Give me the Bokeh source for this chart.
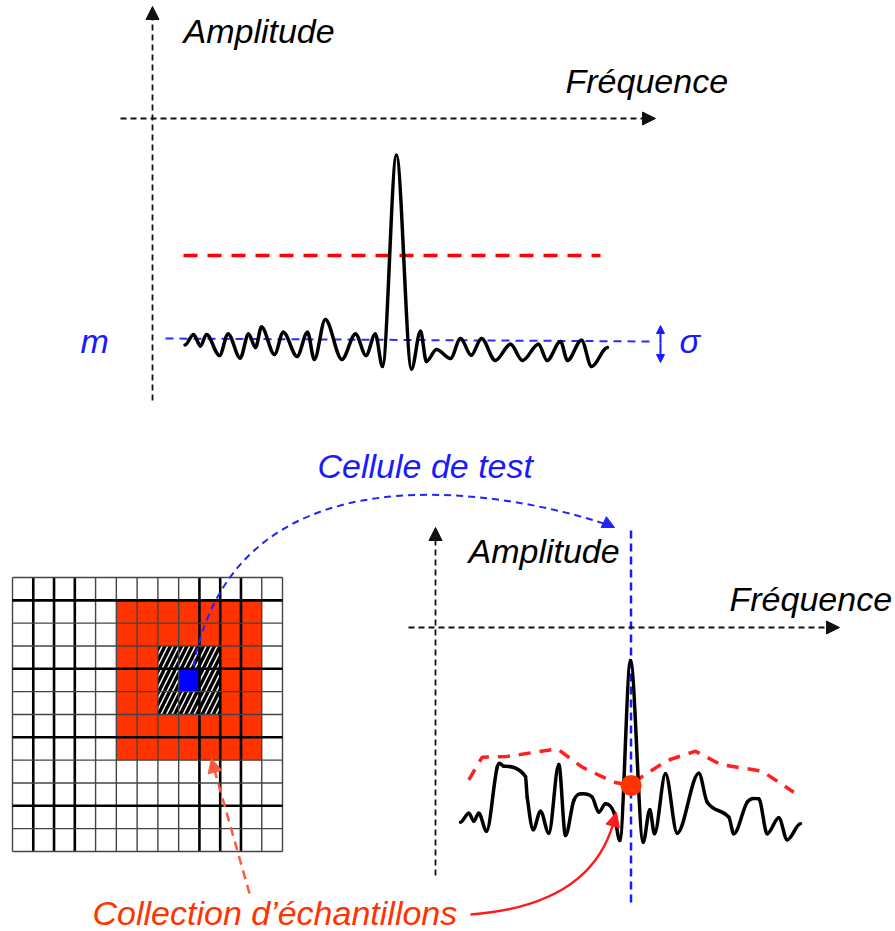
from bokeh.plotting import figure
from bokeh.models import Range1d, Arrow, NormalHead
from bokeh.core.properties import value
from bokeh.embed import file_html
from bokeh.resources import INLINE

# ---------------- data (diagram coordinates, y grows downward) ----------------
# Top spectrum: frequency position / amplitude position
top_freq = [184.5, 193, 200, 206, 219, 227.6, 239.7, 248, 255, 261, 274, 282.8, 296.6, 307,
            313.8, 324.8, 341.4, 355, 365.5, 374.8, 382, 395.9, 411, 420, 425.9, 436, 450,
            460, 470.7, 481, 494.8, 510, 522, 538, 546.6, 560, 567, 581, 591, 607]
top_amp = [344.5, 334, 345.5, 334, 355, 333.4, 357.6, 333.4, 347, 326.6, 354, 331.7, 355.9, 331.7,
           359, 319, 359, 333.4, 355, 333.4, 366, 154.8, 368.6, 330.7, 361, 349, 358,
           338, 354.8, 338, 360, 343.8, 360, 343.8, 360, 341, 360, 339.7, 366, 347]
top_threshold_freq = [183, 600]
top_threshold_amp = [255, 255]
top_mean_freq = [165, 655]
top_mean_amp = [338, 341]

# Bottom spectrum
bot_freq = [460, 468.3, 473.3, 478.3, 486, 496.7, 503.3, 525, 526.7, 532.7, 540, 548.3, 558.3,
            565, 573.3, 581.7, 591.7, 598.3, 605, 613.3, 619.3, 630, 642.7, 649.3, 654, 665,
            676.7, 698.3, 706.7, 728.3, 733.3, 746.7, 758.3, 766.7, 778.3, 786.7, 800]
bot_amp = [821.7, 812.7, 820.7, 812.7, 830.7, 766.7, 765.7, 776, 796.7, 829.3, 810.7, 832.7, 764,
           835, 800, 793.3, 796.7, 811.7, 803.3, 811.7, 840, 660, 841.7, 809.3, 833.3, 773.3,
           832.7, 772.7, 801.7, 816.7, 833.3, 801.7, 798.3, 833.3, 817.3, 839.3, 823.3]
# adaptive (CFAR) threshold
thr_freq = [468.3, 481.7, 506.7, 556.7, 581.7, 613.3, 630.7, 641.7, 666.7, 695, 720, 761.7, 793.3]
thr_amp = [779.3, 756.7, 756, 748.3, 766.7, 781.7, 785, 776, 760, 750.7, 764, 770.7, 791.7]
cut_freq = [630.7]
cut_amp = [785]

# Reference cell grid
n_cols, n_rows = 13, 12
ref_cols = (5, 11)      # collection of samples (red)
ref_rows = (1, 7)
guard_cols = (7, 9)     # guard cells (hatched)
guard_rows = (3, 5)
test_cell = (8, 4)      # cell under test (blue)
thick_v = [1, 2, 3, 9, 10, 11]
thick_h = [1, 4, 7, 10]

labels_top = ["Amplitude", "Fréquence", "m", "σ"]
labels_bot = ["Cellule de test", "Amplitude", "Fréquence", "Collection d\u2019échantillons"]

# ---------------- figure ----------------
p = figure(width=895, height=931, output_backend="svg", toolbar_location=None,
           x_range=Range1d(0, 895), y_range=Range1d(931, 0),
           min_border=0, background_fill_color="white", border_fill_color="white")
p.axis.visible = False
p.grid.visible = False
p.outline_line_color = None

FONT = value("Liberation Sans")


def smooth(xs, ys):
    n = len(xs)
    m = [0.0] * n
    for i in range(1, n - 1):
        d1 = ys[i] - ys[i - 1]
        d2 = ys[i + 1] - ys[i]
        if d1 * d2 > 0:
            m[i] = (ys[i + 1] - ys[i - 1]) / (xs[i + 1] - xs[i - 1])
    x0, y0, x1, y1, cx0, cy0, cx1, cy1 = ([] for _ in range(8))
    for i in range(n - 1):
        dx = xs[i + 1] - xs[i]
        x0.append(xs[i]); y0.append(ys[i]); x1.append(xs[i + 1]); y1.append(ys[i + 1])
        cx0.append(xs[i] + dx / 3); cy0.append(ys[i] + m[i] * dx / 3)
        cx1.append(xs[i + 1] - dx / 3); cy1.append(ys[i + 1] - m[i + 1] * dx / 3)
    return dict(x0=x0, y0=y0, x1=x1, y1=y1, cx0=cx0, cy0=cy0, cx1=cx1, cy1=cy1)


def arrow(xs, ys, xe, ye, color, width=1.8, dash="solid", size=12, start=False, alpha=1.0):
    head = dict(size=size, fill_color=color, line_color=color, line_width=1)
    a = Arrow(x_start=xs, y_start=ys, x_end=xe, y_end=ye, line_color=color,
              line_width=width, line_dash=dash, line_alpha=alpha, end=NormalHead(**head),
              start=NormalHead(**head) if start else None)
    p.add_layout(a)


def label(x, y, txt, color):
    p.text([x], [y], text=[txt], text_font=FONT, text_font_style="italic",
           text_font_size="34px", text_color=color, text_baseline="middle", text_align="left")


# ---------- top diagram ----------
arrow(152, 400, 152, 6, "#111111", width=1.8, dash="6 4", size=13)
arrow(120, 118, 655, 118, "#111111", width=1.8, dash="6 4", size=13)
p.line(top_threshold_freq, top_threshold_amp, line_color="#ff0000", line_width=3.5, line_dash="14 10")
p.line(top_mean_freq, top_mean_amp, line_color="#2b2bff", line_width=2, line_dash="8 6")
p.bezier(**smooth(top_freq, top_amp), line_color="black", line_width=3.5, line_cap="round")
arrow(660, 343, 660, 325, "#1a1aff", width=2, size=8)
arrow(660, 343, 660, 362, "#1a1aff", width=2, size=8)

label(183, 30, labels_top[0], "black")
label(565, 80, labels_top[1], "black")
label(80, 340, labels_top[2], "#1a1aff")
label(679, 340, labels_top[3], "#1a1aff")

# ---------- grid ----------
gx0, gy0, cw, ch = 12, 577, 20.77, 22.83
p.quad(left=[gx0], right=[gx0 + n_cols * cw], top=[gy0], bottom=[gy0 + n_rows * ch],
       fill_color="white", line_color=None)
p.quad(left=[gx0 + ref_cols[0] * cw], right=[gx0 + (ref_cols[1] + 1) * cw],
       top=[gy0 + ref_rows[0] * ch], bottom=[gy0 + (ref_rows[1] + 1) * ch],
       fill_color="#ff3300", line_color=None)
p.quad(left=[gx0 + guard_cols[0] * cw], right=[gx0 + (guard_cols[1] + 1) * cw],
       top=[gy0 + guard_rows[0] * ch], bottom=[gy0 + (guard_rows[1] + 1) * ch],
       fill_color="white", line_color=None, hatch_pattern="/", hatch_color="black",
       hatch_weight=3.5, hatch_scale=11)
p.quad(left=[gx0 + test_cell[0] * cw], right=[gx0 + (test_cell[0] + 1) * cw],
       top=[gy0 + test_cell[1] * ch], bottom=[gy0 + (test_cell[1] + 1) * ch],
       fill_color="#0000ff", line_color=None)
vx = [[gx0 + i * cw, gx0 + i * cw] for i in range(n_cols + 1)]
vy = [[gy0, gy0 + n_rows * ch] for i in range(n_cols + 1)]
vw = [2.6 if i in thick_v else 1.4 for i in range(n_cols + 1)]
vc = ["black" if i in thick_v else "#444444" for i in range(n_cols + 1)]
hx = [[gx0, gx0 + n_cols * cw] for j in range(n_rows + 1)]
hy = [[gy0 + j * ch, gy0 + j * ch] for j in range(n_rows + 1)]
hw = [2.6 if j in thick_h else 1.4 for j in range(n_rows + 1)]
hc = ["black" if j in thick_h else "#444444" for j in range(n_rows + 1)]
p.multi_line(xs=vx + hx, ys=vy + hy, line_width=vw + hw, line_color=vc + hc)

# ---------- bottom spectrum ----------
arrow(435, 875, 435, 527, "#111111", width=1.8, dash="6 4", size=13)
arrow(408, 627, 839, 627, "#111111", width=1.8, dash="6 4", size=13)
p.line([630.5, 630.5], [530, 907], line_color="#1a1aff", line_width=2.5, line_dash="8 5")
p.line(thr_freq, thr_amp, line_color="#ff2020", line_width=3.5, line_dash="12 9")
p.bezier(**smooth(bot_freq, bot_amp), line_color="black", line_width=3.5, line_cap="round")
p.scatter(cut_freq, cut_amp, size=21, fill_color="#ff3300", line_color=None)

# ---------- connectors ----------
p.bezier(x0=[193], y0=[666], cx0=[238], cy0=[425], cx1=[540], cy1=[500], x1=[612], y1=[526],
         line_color="#2222ff", line_width=2, line_dash="7 5")
arrow(598, 519, 614, 527, "#2222ff", width=2, size=12, alpha=0)

p.line([249, 213], [893, 766], line_color="#ff5a3c", line_width=2.5, line_dash="9 6")
arrow(214, 770, 211, 758, "#ff5a3c", width=2, size=14, alpha=0)

p.quadratic(x0=[470], y0=[914], cx=[590], cy=[905], x1=[613], y1=[822],
            line_color="#ff1a1a", line_width=2.5)
arrow(612, 826, 616, 812, "#ff1a1a", width=2, size=14, alpha=0)

label(317, 465, labels_bot[0], "#1a1aff")
label(468, 550, labels_bot[1], "black")
label(729, 598, labels_bot[2], "black")
label(92, 912, labels_bot[3], "#ff3300")

open("out.html", "w").write(file_html(p, INLINE))
